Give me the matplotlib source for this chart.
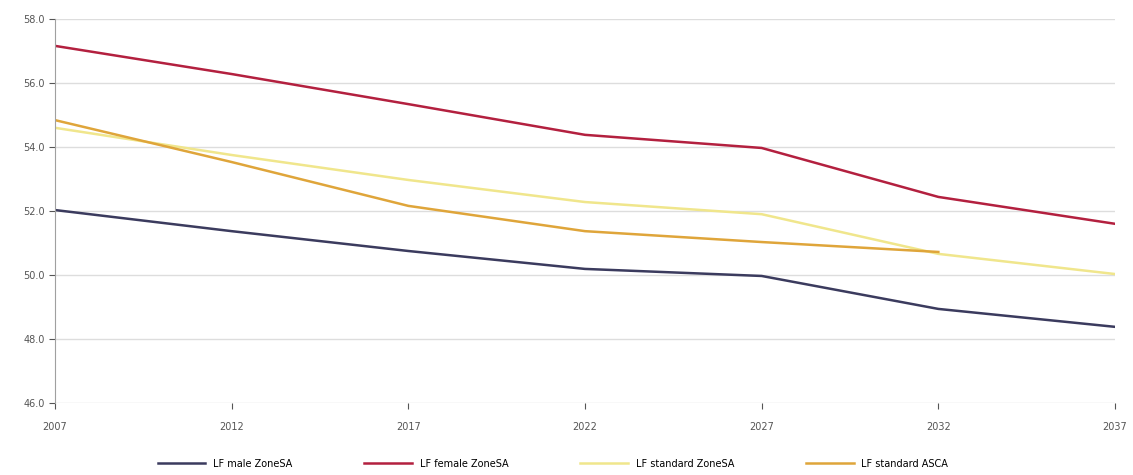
import matplotlib.pyplot as plt

years = ['2007', '2012', '2017', '2022', '2027', '2032', '2037']
male_zone = [52.03, 51.37, 50.75, 50.19, 49.97, 48.94, 48.38]
female_zone = [57.16, 56.28, 55.34, 54.38, 53.97, 52.44, 51.6]
standard_zone = [54.6, 53.75, 52.97, 52.28, 51.9, 50.66, 50.03]
standard_asca = [54.84, 53.53, 52.16, 51.37, 51.03, 50.72]

series = [
    ('LF male ZoneSA', male_zone, '#3b3b5e'),
    ('LF female ZoneSA', female_zone, '#b3203f'),
    ('LF standard ZoneSA', standard_zone, '#f0e68c'),
    ('LF standard ASCA', standard_asca, '#dfa53a'),
]

fig = plt.figure(figsize=(11.33, 4.75), dpi=100)
ax = fig.add_axes([55 / 1133, 72 / 475, 1060 / 1133, 384 / 475])

for label, vals, color in series:
    ax.plot(range(len(vals)), vals, color=color, linewidth=1.8, label=label)

ax.set_xlim(0, len(years) - 1)
ax.set_ylim(46, 58)
ax.set_xticks(range(len(years)))
ax.set_xticklabels(years)
ax.set_yticks([46, 48, 50, 52, 54, 56, 58])
ax.set_yticklabels([f'{v:.1f}' for v in [46, 48, 50, 52, 54, 56, 58]])
ax.tick_params(labelsize=7, colors='#555555', length=4, width=0.8)
ax.tick_params(axis='x', pad=10)
ax.grid(axis='y', color='#dddddd', linewidth=1)
ax.set_axisbelow(True)
for s in ['top', 'right', 'bottom']:
    ax.spines[s].set_visible(False)
ax.spines['left'].set_color('#a0a0a0')

fig.legend(loc='lower center', ncol=4, fontsize=7, frameon=False,
           bbox_to_anchor=(0.488, -0.005), handlelength=4.9, columnspacing=7.4)

plt.savefig('out.png', dpi=100)
